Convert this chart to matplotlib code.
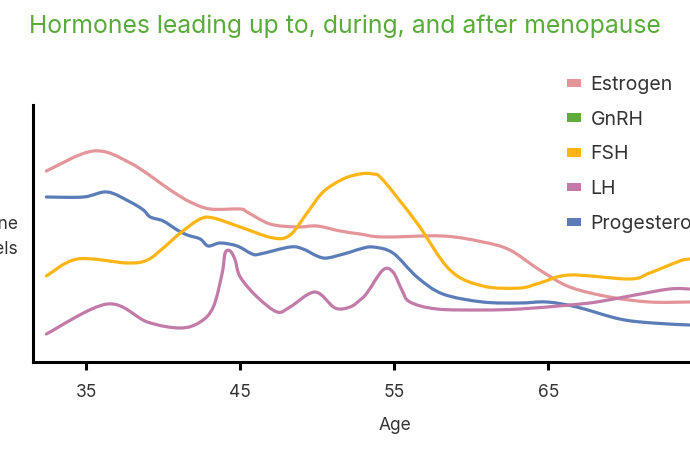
import numpy as np
import matplotlib
matplotlib.use("Agg")
import matplotlib.pyplot as plt
from matplotlib.path import Path
from matplotlib.patches import PathPatch, Patch

plt.rcParams['font.family'] = ['Inter', 'DejaVu Sans']

# values (age, relative level)
estrogen_age = [32.4, 35.45, 37.85, 40.45, 41.74, 43.04, 44.99, 45.44, 46.93, 48.68, 49.98,
                51.47, 52.77, 54.26, 58.15, 60.75, 62.5, 64.44, 66.39, 68.98, 71.58, 74.17]
estrogen_lvl = [191, 211, 199, 172, 160, 153, 153, 150, 138, 135, 136,
                131, 128, 125, 126, 120, 112, 92, 75, 65, 60, 60]

prog_age = [32.4, 34.81, 36.36, 37.85, 38.7, 39.15, 39.99, 40.9, 41.55, 42.39, 42.91, 43.69,
            44.79, 45.77, 46.28, 48.23, 49.07, 49.98, 50.63, 51.93, 52.77, 53.61, 54.91,
            56.47, 58.15, 60.75, 63.15, 64.9, 66.84, 69.63, 71.77, 74.17]
prog_lvl = [165, 165, 170, 160, 152, 145, 141, 132, 127, 123, 116, 119,
            116, 108, 108, 115, 113, 106, 104, 109, 113, 115, 109,
            85, 68, 60, 59, 60, 55, 43, 39, 37]

fsh_age = [32.4, 34.42, 37.66, 38.96, 39.99, 41.1, 42.39, 43.24, 44.99, 47.13, 48.23, 49.33,
           50.37, 51.67, 52.77, 53.61, 54.26, 56.47, 58.61, 60.75, 63.15, 64.44, 66.39,
           70.28, 71.58, 73.53, 74.17]
fsh_lvl = [86, 103, 99, 102, 114, 129, 143, 144, 135, 124, 127, 149,
           170, 183, 188, 188, 182, 139, 92, 76, 74, 79, 87,
           83, 89, 101, 103]

lh_age = [32.4, 36.36, 38.96, 41.1, 42.39, 43.24, 43.82, 44.01, 44.34, 44.66, 44.99, 46.09,
          47.39, 48.23, 49.85, 51.15, 52.12, 52.77, 53.22, 54.26, 54.91, 55.49, 56.01,
          57.76, 60.75, 63.15, 66.39, 68.14, 70.28, 72.87, 74.17]
lh_lvl = [28, 58, 40, 34, 40, 55, 89, 109, 111, 102, 85, 65,
          50, 55, 70, 54, 55, 62, 69, 92, 90, 72, 60,
          53, 52, 53, 57, 60, 66, 73, 73]

legend_labels = ['Estrogen', 'GnRH', 'FSH', 'LH', 'Progesterone']
colors = ['#e3959a', '#5fab3c', '#fdb515', '#c27ba8', '#5a7db8']
xticks = [35, 45, 55, 65]


def smooth_path(xs, ys):
    # catmull-rom through the points, as cubic bezier segments
    p = np.column_stack([xs, ys]).astype(float)
    p = np.vstack([p[0], p, p[-1]])
    verts = [p[1]]
    codes = [Path.MOVETO]
    for i in range(1, len(p) - 2):
        c1 = p[i] + (p[i + 1] - p[i - 1]) / 6.0
        c2 = p[i + 1] - (p[i + 2] - p[i]) / 6.0
        verts += [c1, c2, p[i + 1]]
        codes += [Path.CURVE4] * 3
    return Path(verts, codes)


fig = plt.figure(figsize=(6.9, 4.5), dpi=100)
ax = fig.add_axes([32.5 / 690, 88 / 450, 1 - 32.5 / 690, 257 / 450])

series = [(estrogen_age, estrogen_lvl, colors[0]),
          (prog_age, prog_lvl, colors[4]),
          (fsh_age, fsh_lvl, colors[2]),
          (lh_age, lh_lvl, colors[3])]
for xs, ys, c in series:
    ax.add_patch(PathPatch(smooth_path(xs, ys), facecolor='none', edgecolor=c,
                           lw=2.3, capstyle='round', joinstyle='round'))

ax.set_xlim(31.5, 74.2)
ax.set_ylim(0, 257)
ax.set_xticks(xticks)
ax.set_xticklabels([str(t) for t in xticks])
ax.set_yticks([])
for s in ['top', 'right']:
    ax.spines[s].set_visible(False)
for s in ['left', 'bottom']:
    ax.spines[s].set_linewidth(2.2)
    ax.spines[s].set_color('black')
ax.tick_params(axis='x', length=6, width=2.2, pad=10, labelsize=12.5, labelcolor='#333333')

fig.text(0.5, 1 - 26 / 450, 'Hormones leading up to, during, and after menopause',
         ha='center', va='center', fontsize=17.8, color='#5aab3a')
fig.text(395 / 690, 1 - 425 / 450, 'Age', ha='center', va='center', fontsize=12.5, color='#333333')
fig.text(18 / 690, 1 - 237 / 450, 'Hormone\nlevels', ha='right', va='center', ma='right',
         fontsize=12.5, color='#333333', linespacing=1.6)

handles = [Patch(facecolor=c, edgecolor='none') for c in colors]
fig.legend(handles, legend_labels, loc='upper left', bbox_to_anchor=(567 / 690, 374 / 450),
           frameon=False, fontsize=14, handlelength=0.72, handleheight=0.3,
           handletextpad=0.5, labelspacing=0.86, borderpad=0, borderaxespad=0,
           labelcolor='#333333')

fig.savefig('out.png', dpi=100)
